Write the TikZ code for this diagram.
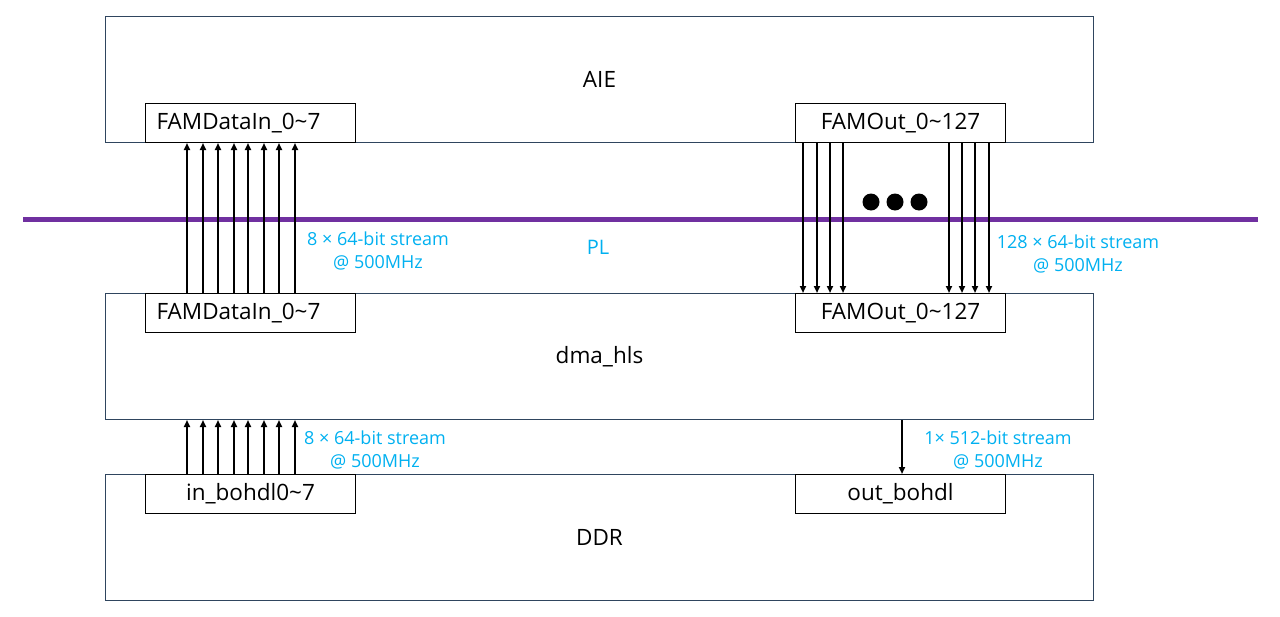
\documentclass[tikz,border=0pt]{standalone}
\usepackage{fontspec}
\setmainfont{Open Sans}
\usetikzlibrary{arrows.meta}
\definecolor{boxline}{RGB}{47,69,94}
\definecolor{plpurple}{RGB}{112,48,160}
\definecolor{lblue}{RGB}{0,176,240}
\begin{document}
\begin{tikzpicture}[x=1pt,y=-1pt,
  outer/.style={draw=boxline,line width=1pt,minimum width=988pt,minimum height=126pt,anchor=north west,inner sep=0pt,font=\fontsize{22.5}{26}\selectfont},
  port/.style={draw=black,line width=1pt,fill=white,minimum width=210pt,minimum height=39pt,anchor=north west,inner sep=0pt,font=\fontsize{22.5}{26}\selectfont},
  arr/.style={line width=1.7pt,-{Triangle[length=7pt,width=6pt]}},
  note/.style={text=lblue,font=\fontsize{18}{23}\selectfont,align=center,inner sep=0pt}]
\useasboundingbox (0,0) rectangle (1280,616);
\node[outer] (aie) at (105,16) {AIE};
\node[outer] (dma) at (105,293) {dma\_hls};
\node[outer] (ddr) at (105,474) {DDR};
\node[port] (famInT) at (145,103) {FAMDataIn\_0\textasciitilde 7\hspace*{24pt}};
\node[port] (famOutT) at (795,103) {FAMOut\_0\textasciitilde 127};
\node[port] (famInB) at (145,293) {FAMDataIn\_0\textasciitilde 7\hspace*{24pt}};
\node[port] (famOutB) at (795,293) {FAMOut\_0\textasciitilde 127};
\node[port] (inB) at (145,474) {in\_bohdl0\textasciitilde 7};
\node[port] (outB) at (795,474) {out\_bohdl};
\coordinate (plL) at (23,219);
\coordinate (plR) at (1258,219);
\draw[plpurple,line width=5pt] (plL) -- (plR);
\foreach \d in {42,58,73,89,103,119,134,150}{
  \draw[arr] ([xshift=\d pt]famInB.north west) -- ([xshift=\d pt]famInT.south west);
  \draw[arr] ([xshift=\d pt]inB.north west) -- ([xshift=\d pt]inB.north west |- dma.south);
}
\foreach \d in {8,22,35,48,154,167,180,194}{
  \draw[arr] ([xshift=\d pt]famOutT.south west) -- ([xshift=\d pt]famOutB.north west);
}
\draw[arr] ([xshift=107pt]outB.north west |- dma.south) -- ([xshift=107pt]outB.north west);
\foreach \c in {871,895,919}{\fill (\c,202) circle (8.5pt);}
\node[note] (n1) at (378,251) {8 × 64-bit stream\\@ 500MHz};
\node[note] (pl) at (598,247) {\fontsize{20}{23}\selectfont PL};
\node[note] (n2) at (1078,254) {128 × 64-bit stream\\@ 500MHz};
\node[note] (n3) at (375,450) {8 × 64-bit stream\\@ 500MHz};
\node[note] (n4) at (998,450) {1× 512-bit stream\\@ 500MHz};
\end{tikzpicture}
\end{document}
